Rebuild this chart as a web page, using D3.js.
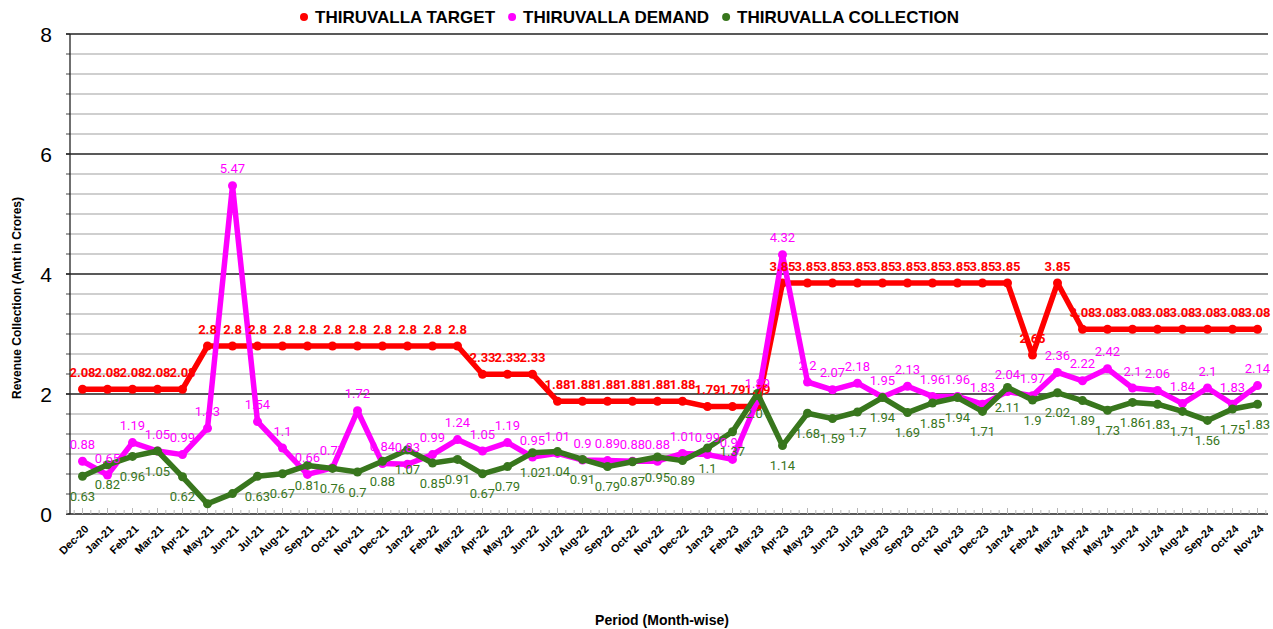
<!DOCTYPE html>
<html>
<head>
<meta charset="utf-8">
<script src="https://cdn.jsdelivr.net/npm/d3@7"></script>
<style>
  body { margin: 0; background: #fff; }
  svg { display: block; font-family: "Liberation Sans", Arial, sans-serif; }
</style>
</head>
<body>
<svg id="chart" width="1273" height="629"></svg>
<script>
// months shown on the x axis
const months = ['Dec-20', 'Jan-21', 'Feb-21', 'Mar-21', 'Apr-21', 'May-21', 'Jun-21', 'Jul-21', 'Aug-21', 'Sep-21', 'Oct-21', 'Nov-21',
    'Dec-21', 'Jan-22', 'Feb-22', 'Mar-22', 'Apr-22', 'May-22', 'Jun-22', 'Jul-22', 'Aug-22', 'Sep-22', 'Oct-22', 'Nov-22',
    'Dec-22', 'Jan-23', 'Feb-23', 'Mar-23', 'Apr-23', 'May-23', 'Jun-23', 'Jul-23', 'Aug-23', 'Sep-23', 'Oct-23', 'Nov-23',
    'Dec-23', 'Jan-24', 'Feb-24', 'Mar-24', 'Apr-24', 'May-24', 'Jun-24', 'Jul-24', 'Aug-24', 'Sep-24', 'Oct-24', 'Nov-24'];

const target = [2.08, 2.08, 2.08, 2.08, 2.08, 2.8, 2.8, 2.8, 2.8, 2.8, 2.8, 2.8,
    2.8, 2.8, 2.8, 2.8, 2.33, 2.33, 2.33, 1.88, 1.88, 1.88, 1.88, 1.88,
    1.88, 1.79, 1.79, 1.79, 3.85, 3.85, 3.85, 3.85, 3.85, 3.85, 3.85, 3.85,
    3.85, 3.85, 2.65, 3.85, 3.08, 3.08, 3.08, 3.08, 3.08, 3.08, 3.08, 3.08];

const demand = [0.88, 0.65, 1.19, 1.05, 0.99, 1.43, 5.47, 1.54, 1.1, 0.66, 0.77, 1.72,
    0.84, 0.83, 0.99, 1.24, 1.05, 1.19, 0.95, 1.01, 0.9, 0.89, 0.88, 0.88,
    1.01, 0.99, 0.91, 1.89, 4.32, 2.2, 2.07, 2.18, 1.95, 2.13, 1.96, 1.96,
    1.83, 2.04, 1.97, 2.36, 2.22, 2.42, 2.1, 2.06, 1.84, 2.1, 1.83, 2.14];

const collection = [0.63, 0.82, 0.96, 1.05, 0.62, 0.17, 0.34, 0.63, 0.67, 0.81, 0.76, 0.7,
    0.88, 1.07, 0.85, 0.91, 0.67, 0.79, 1.02, 1.04, 0.91, 0.79, 0.87, 0.95,
    0.89, 1.1, 1.37, 2.01, 1.14, 1.68, 1.59, 1.7, 1.94, 1.69, 1.85, 1.94,
    1.71, 2.11, 1.9, 2.02, 1.89, 1.73, 1.86, 1.83, 1.71, 1.56, 1.75, 1.83];

// the reference shows no value for these two collection points
const collection_unlabelled = ['May-21', 'Jun-21'];

const y_ticks = [0, 2, 4, 6, 8];

const series = [
    {name: 'THIRUVALLA TARGET', values: target, color: '#ff0000', bold: true, dy: -17, skip: []},
    {name: 'THIRUVALLA DEMAND', values: demand, color: '#ff00ff', bold: false, dy: -17, skip: []},
    {name: 'THIRUVALLA COLLECTION', values: collection, color: '#38761d', bold: false, dy: 20, skip: collection_unlabelled}
];

const svg = d3.select('#chart');
const plot_left = 70, plot_right = 1270, plot_top = 34, plot_bottom = 514;

let x = d3.scalePoint().domain(months).range([plot_left, plot_right]).padding(0.5);
let y = d3.scaleLinear().domain([0, 8]).range([plot_bottom, plot_top]);
const step = x.step();

// minor grid every 1/3
let minor = d3.range(0, 24).map(i => i / 3).filter(v => !y_ticks.includes(v));
svg.append('g').selectAll('line').data(minor).join('line')
    .attr('x1', plot_left).attr('x2', plot_right - 2)
    .attr('y1', d => y(d)).attr('y2', d => y(d))
    .attr('stroke', '#a0a0a0').attr('stroke-width', 1.2);
svg.append('g').selectAll('line').data(d3.range(0, 25).map(i => i / 3)).join('line')
    .attr('x1', plot_left - 4).attr('x2', plot_left)
    .attr('y1', d => y(d)).attr('y2', d => y(d))
    .attr('stroke', '#444').attr('stroke-width', 1);
svg.append('g').selectAll('line').data(y_ticks).join('line')
    .attr('x1', plot_left - 4).attr('x2', plot_right - 2)
    .attr('y1', d => y(d)).attr('y2', d => y(d))
    .attr('stroke', '#222').attr('stroke-width', 1.3);

svg.append('line').attr('x1', plot_left).attr('x2', plot_left).attr('y1', plot_top).attr('y2', plot_bottom)
    .attr('stroke', '#222').attr('stroke-width', 1.3);

svg.append('g').selectAll('text').data(y_ticks).join('text')
    .attr('x', 52).attr('y', d => y(d)).attr('dy', '0.36em')
    .attr('text-anchor', 'end').attr('font-size', 21).attr('fill', '#000')
    .text(d => d);

// x ticks: one per month plus two small ones in between
let xt = [];
months.forEach(m => {
    xt.push({pos: x(m), major: true});
    xt.push({pos: x(m) + step / 3, major: false});
    xt.push({pos: x(m) + 2 * step / 3, major: false});
});
xt.push({pos: x(months[0]) - step / 3, major: false});
xt.push({pos: x(months[0]) - 2 * step / 3 + 1, major: false});
svg.append('g').selectAll('line').data(xt).join('line')
    .attr('x1', d => d.pos).attr('x2', d => d.pos)
    .attr('y1', plot_bottom).attr('y2', d => plot_bottom - (d.major ? 6 : 4))
    .attr('stroke', '#b8b8b8').attr('stroke-width', 1);

svg.append('g').selectAll('text').data(months).join('text')
    .attr('transform', d => 'translate(' + (x(d) + 4) + ',' + (plot_bottom + 13) + ') rotate(-45)')
    .attr('text-anchor', 'end').attr('dy', '0.35em')
    .attr('font-size', 11).attr('font-weight', 'bold').attr('fill', '#000')
    .text(d => d);

// series lines
let line = d3.line().x((d, i) => x(months[i])).y(d => y(d));
series.forEach(s => {
    let g = svg.append('g');
    g.append('path').datum(s.values)
        .attr('d', line).attr('fill', 'none')
        .attr('stroke', s.color).attr('stroke-width', 5.5)
        .attr('stroke-linejoin', 'round');
    g.selectAll('circle').data(s.values).join('circle')
        .attr('cx', (d, i) => x(months[i])).attr('cy', d => y(d))
        .attr('r', 4.5).attr('fill', s.color);
});

// value labels on top of everything
series.forEach(s => {
    let points = s.values.map((v, i) => ({month: months[i], value: v}))
        .filter(p => !s.skip.includes(p.month));
    svg.append('g').selectAll('text').data(points).join('text')
        .attr('x', d => x(d.month)).attr('y', d => y(d.value) + s.dy)
        .attr('dy', '0.35em').attr('text-anchor', 'middle')
        .attr('font-size', 13).attr('font-family', 'Roboto, sans-serif')
        .attr('font-weight', s.bold ? 'bold' : 'normal')
        .attr('fill', s.color)
        .text(d => d.value);
});

// legend
let legend = svg.append('g');
let lx = 304;
series.forEach(s => {
    legend.append('circle').attr('cx', lx).attr('cy', 17).attr('r', 4).attr('fill', s.color);
    let t = legend.append('text').attr('x', lx + 11).attr('y', 17).attr('dy', '0.36em')
        .attr('font-size', 17).attr('font-weight', 'bold').attr('fill', '#000')
        .text(s.name);
    lx += 11 + t.node().getComputedTextLength() + 17;
});

svg.append('text')
    .attr('transform', 'translate(17,298) rotate(-90)')
    .attr('text-anchor', 'middle').attr('dy', '0.35em')
    .attr('font-size', 12).attr('font-weight', 'bold')
    .text('Revenue Collection (Amt in Crores)');

svg.append('text').attr('x', 662).attr('y', 620)
    .attr('text-anchor', 'middle').attr('dy', '0.35em')
    .attr('font-size', 14).attr('font-weight', 'bold')
    .text('Period (Month-wise)');
</script>
</body>
</html>
